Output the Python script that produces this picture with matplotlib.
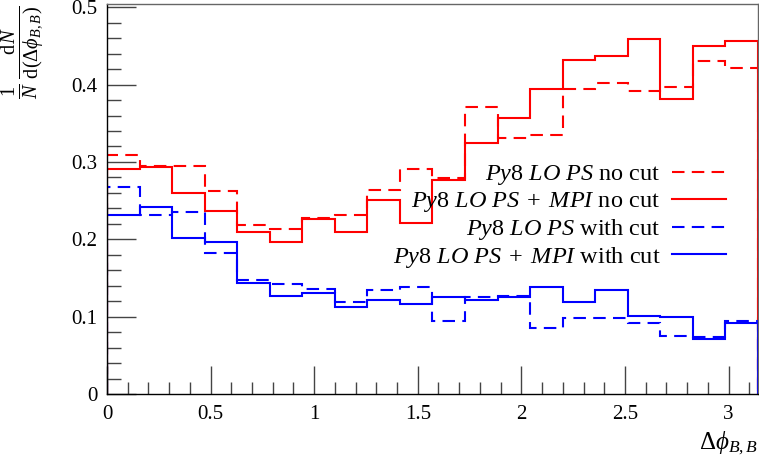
import numpy as np
import matplotlib
matplotlib.use("Agg")
import matplotlib.pyplot as plt
from matplotlib.ticker import MultipleLocator

plt.rcParams["font.family"] = ["Liberation Serif", "DejaVu Serif"]
plt.rcParams["mathtext.fontset"] = "custom"
plt.rcParams["mathtext.rm"] = "Liberation Serif"
plt.rcParams["mathtext.it"] = "Liberation Serif:italic"
plt.rcParams["mathtext.bf"] = "Liberation Serif:bold"

# 20 equal bins in delta-phi between the two B hadrons, 0..pi
n_bins = 20
edges = np.linspace(0.0, np.pi, n_bins + 1)

ps_nocut = [0.309, 0.295, 0.295, 0.262, 0.218, 0.213, 0.227, 0.231, 0.264, 0.291,
            0.279, 0.371, 0.331, 0.335, 0.394, 0.402, 0.392, 0.397, 0.431, 0.421]
mpi_nocut = [0.291, 0.294, 0.260, 0.236, 0.210, 0.197, 0.226, 0.210, 0.251, 0.221,
             0.277, 0.324, 0.357, 0.394, 0.432, 0.437, 0.459, 0.381, 0.450, 0.456]
ps_cut = [0.268, 0.231, 0.235, 0.182, 0.148, 0.142, 0.136, 0.119, 0.134, 0.138,
          0.094, 0.126, 0.127, 0.085, 0.098, 0.098, 0.092, 0.075, 0.074, 0.094]
mpi_cut = [0.232, 0.242, 0.202, 0.197, 0.144, 0.127, 0.130, 0.112, 0.121, 0.117,
           0.125, 0.121, 0.126, 0.138, 0.119, 0.134, 0.101, 0.099, 0.071, 0.092]

labels = [r"$Py8\ LO\ PS$ no cut",
          r"$Py8\ LO\ PS\;+\;MPI$ no cut",
          r"$Py8\ LO\ PS$ with cut",
          r"$Py8\ LO\ PS\;+\;MPI$ with cut"]

fig = plt.figure(figsize=(7.59, 4.63), dpi=100)
ax = fig.add_axes([0.141, 0.149, 0.8575, 0.842])

dash = (0, (6, 3.5))
lw = 1.5
ax.stairs(ps_nocut, edges, color="#ff0000", lw=lw, ls=dash, label=labels[0])
ax.stairs(mpi_nocut, edges, color="#ff0000", lw=lw, ls="-", label=labels[1])
ax.stairs(ps_cut, edges, color="#0000ff", lw=lw, ls=dash, label=labels[2])
ax.stairs(mpi_cut, edges, color="#0000ff", lw=lw, ls="-", label=labels[3])

ax.set_xlim(0, np.pi)
ax.set_ylim(0, 0.504)

ax.xaxis.set_major_locator(MultipleLocator(0.5))
ax.xaxis.set_minor_locator(MultipleLocator(0.1))
ax.yaxis.set_major_locator(MultipleLocator(0.1))
ax.yaxis.set_minor_locator(MultipleLocator(0.02))
ax.xaxis.set_major_formatter(plt.FuncFormatter(lambda v, p: f"{v:g}"))
ax.yaxis.set_major_formatter(plt.FuncFormatter(lambda v, p: f"{v:g}"))

ax.tick_params(which="both", direction="in", top=False, right=False,
               color="#444444", labelsize=15)
ax.tick_params(axis="x", which="major", length=20, width=1.0, pad=8)
ax.tick_params(axis="x", which="minor", length=9, width=1.0)
ax.tick_params(axis="y", which="major", length=21, width=1.0, pad=7)
ax.tick_params(axis="y", which="minor", length=10, width=1.0)

for side in ("left", "bottom"):
    ax.spines[side].set_color("black")
    ax.spines[side].set_linewidth(1.0)
for side in ("top", "right"):
    ax.spines[side].set_color("#666666")
    ax.spines[side].set_linewidth(1.0)

ax.set_xlabel(r"$\Delta\phi_{B,B}$", fontsize=18, ha="right", x=1.0, labelpad=4)
fig.text(0.030, 0.988,
         r"$\frac{1}{N}\,\frac{\mathrm{d}N}{\mathrm{d}(\Delta\phi_{B,B})}$",
         rotation=90, ha="center", va="top", fontsize=21)

leg = ax.legend(loc="upper right", bbox_to_anchor=(0.951, 0.592), frameon=False,
                markerfirst=False, fontsize=17.5, handlelength=2.2,
                handletextpad=0.5, labelspacing=0.12, borderaxespad=0.0,
                borderpad=0.0)
for t in leg.get_texts():
    t.set_ha("right")

fig.savefig("out.png", dpi=100)
